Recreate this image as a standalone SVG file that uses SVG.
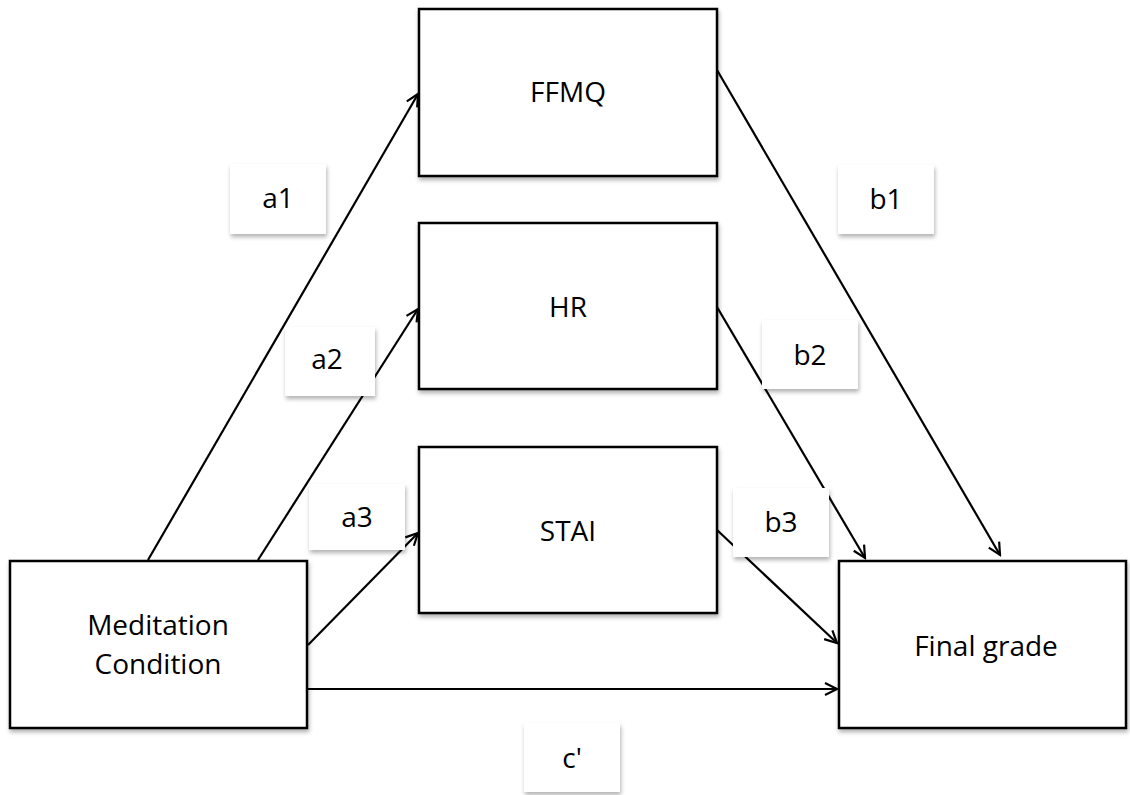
<svg xmlns="http://www.w3.org/2000/svg" width="1130" height="795" viewBox="0 0 1130 795">
<style>
.node{fill:#fff;stroke:#000;stroke-width:2.5}
.lbl{fill:#fff}
.t{font-family:"Open Sans","Liberation Sans",sans-serif;font-size:28px;fill:#000;text-anchor:middle}
.c{fill:none;stroke:#000;stroke-width:2.2}
</style>
<defs>
<filter id="sh" x="-20%" y="-20%" width="140%" height="150%">
<feDropShadow dx="1" dy="3" stdDeviation="2" flood-color="#000" flood-opacity="0.3"/>
</filter>
<marker id="ah" markerUnits="userSpaceOnUse" markerWidth="16" markerHeight="16" refX="14" refY="8" orient="auto">
<path d="M2,2 L14,8 L2,14" fill="none" stroke="#000" stroke-width="2.2"/>
</marker>
</defs>
<rect width="1130" height="795" fill="#fff"/>
<g id="meditation"><rect class="node" filter="url(#sh)" x="10" y="561" width="297" height="167"/><text class="t" x="158" y="635">Meditation</text><text class="t" x="158" y="674">Condition</text></g>
<g id="ffmq"><rect class="node" filter="url(#sh)" x="419" y="9" width="298" height="167"/><text class="t" x="568" y="102">FFMQ</text></g>
<g id="hr"><rect class="node" filter="url(#sh)" x="419" y="223" width="298" height="166"/><text class="t" x="568" y="317">HR</text></g>
<g id="stai"><rect class="node" filter="url(#sh)" x="419" y="447" width="298" height="166"/><text class="t" x="568" y="541">STAI</text></g>
<g id="final"><rect class="node" filter="url(#sh)" x="839" y="561" width="287" height="167"/><text class="t" x="986" y="656">Final grade</text></g>
<g id="connectors">
<line class="c" x1="148" y1="560" x2="418" y2="94" marker-end="url(#ah)"/>
<line class="c" x1="258" y1="560" x2="418" y2="309" marker-end="url(#ah)"/>
<line class="c" x1="308" y1="645" x2="418" y2="533" marker-end="url(#ah)"/>
<line class="c" x1="308" y1="689" x2="837" y2="689" marker-end="url(#ah)"/>
<line class="c" x1="717" y1="70" x2="1000" y2="555" marker-end="url(#ah)"/>
<line class="c" x1="717" y1="307" x2="865" y2="558" marker-end="url(#ah)"/>
<line class="c" x1="717" y1="530" x2="837" y2="643" marker-end="url(#ah)"/>
</g>
<g id="label-a1"><rect class="lbl" filter="url(#sh)" x="230" y="164" width="96" height="70"/><text class="t" x="278" y="208">a1</text></g>
<g id="label-a2"><rect class="lbl" filter="url(#sh)" x="285" y="327" width="90" height="69"/><text class="t" x="327" y="369">a2</text></g>
<g id="label-a3"><rect class="lbl" filter="url(#sh)" x="309" y="484" width="96" height="66"/><text class="t" x="357" y="527">a3</text></g>
<g id="label-b1"><rect class="lbl" filter="url(#sh)" x="838" y="165" width="96" height="69"/><text class="t" x="886" y="209">b1</text></g>
<g id="label-b2"><rect class="lbl" filter="url(#sh)" x="762" y="320" width="96" height="69"/><text class="t" x="810" y="365">b2</text></g>
<g id="label-b3"><rect class="lbl" filter="url(#sh)" x="733" y="488" width="96" height="69"/><text class="t" x="781" y="532">b3</text></g>
<g id="label-c"><rect class="lbl" filter="url(#sh)" x="524" y="723" width="96" height="69"/><text class="t" x="572" y="768">c'</text></g>
</svg>
